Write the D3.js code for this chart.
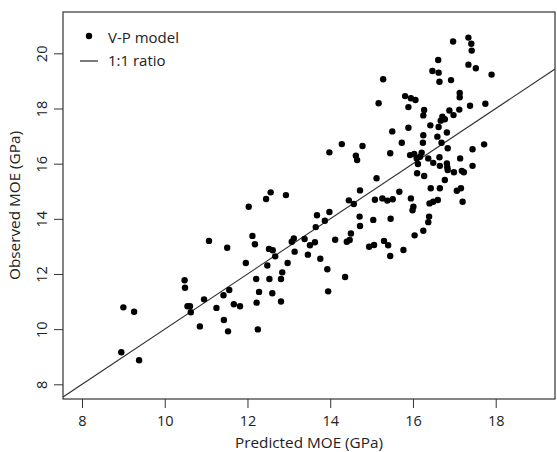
<!DOCTYPE html>
<html><head><meta charset="utf-8">
<script src="https://cdn.jsdelivr.net/npm/d3@7"></script>
<style>body{margin:0;background:#fff}svg{display:block}</style>
</head><body><svg id="c" width="557" height="452"></svg>
<script>
const predicted = [8.95,9.38,9.00,9.26,10.48,10.49,10.55,10.61,10.63,10.85,10.95,11.07,11.25,11.42,11.56,11.43,11.53,11.51,11.67,11.82,11.96,12.03,12.12,12.18,12.21,12.28,12.22,12.25,12.45,12.56,12.93,12.48,12.52,12.61,12.67,12.53,12.60,12.81,12.84,12.81,12.97,13.12,13.07,13.14,13.38,13.46,13.51,13.63,13.65,13.68,13.76,13.87,13.93,13.95,13.98,13.98,14.28,14.78,14.12,14.36,14.40,14.47,14.50,14.45,14.57,14.72,14.71,14.72,14.94,15.06,15.04,15.30,15.40,15.45,15.46,15.77,16.04,16.25,16.37,16.39,14.62,14.65,15.12,15.08,15.26,15.38,15.51,15.67,15.95,16.01,15.99,16.40,16.49,16.60,16.43,16.65,17.06,17.16,17.20,16.10,16.27,16.77,16.99,17.18,17.23,17.44,17.44,17.72,17.14,16.82,16.83,16.84,16.65,16.49,16.64,16.37,16.12,15.93,16.03,16.09,16.21,16.17,15.45,15.73,15.50,16.24,16.69,16.84,16.25,16.59,16.82,15.89,16.42,16.62,16.71,16.77,16.67,16.27,16.25,16.88,16.98,17.12,17.38,17.75,17.13,17.13,15.81,15.95,16.06,15.89,15.17,15.28,16.92,16.64,16.47,16.62,16.61,16.97,17.34,17.41,17.42,17.34,17.52,17.90];
const observed = [9.16,8.87,10.79,10.63,11.77,11.50,10.83,10.83,10.61,10.10,11.08,13.20,10.77,11.23,11.42,10.33,9.92,12.95,10.90,10.83,12.40,14.44,13.38,13.08,11.82,11.35,10.96,9.99,14.72,14.96,14.86,12.31,12.91,12.86,12.64,11.82,11.30,11.00,12.06,11.82,12.40,13.29,13.17,12.81,13.27,12.70,13.04,13.15,13.70,14.13,12.55,13.93,12.17,11.37,14.25,16.41,16.71,16.64,13.24,11.89,13.17,13.23,13.47,14.67,14.54,15.03,14.08,13.74,12.99,13.05,13.96,13.20,13.04,12.65,14.00,12.87,13.40,13.57,13.88,14.08,16.29,16.13,15.47,14.69,14.74,14.66,14.71,14.98,14.74,14.44,14.31,14.56,14.62,14.68,15.11,15.11,15.02,15.11,14.62,15.65,15.55,15.41,15.69,15.74,15.69,15.92,16.52,16.70,16.19,16.01,15.87,15.77,15.92,16.03,16.23,16.19,15.99,16.31,16.35,16.19,16.40,16.25,16.38,16.76,17.17,16.76,16.76,16.56,17.03,16.98,17.13,17.30,17.39,17.33,17.70,17.61,17.56,17.95,17.75,17.93,17.76,17.96,18.10,18.17,18.56,18.41,18.45,18.37,18.31,18.05,18.19,19.06,19.03,18.97,19.36,19.30,19.76,20.43,20.57,20.35,20.10,19.59,19.46,19.23];
const xTicks = [8,10,12,14,16,18];
const yTicks = [8,10,12,14,16,18,20];
const legendLabels = ["V-P model","1:1 ratio"];
const xTitle = "Predicted MOE (GPa)";
const yTitle = "Observed MOE (GPa)";

const W = 557, H = 452;
const L = 63, R = 555, T = 12, B = 399;
const FONT = "'Open Sans', sans-serif";
const svg = d3.select("#c");
const x = d3.scaleLinear().domain([7.541, 19.433]).range([L, R]);
const y = d3.scaleLinear().domain([7.467, 21.499]).range([B, T]);

// 1:1 line clipped to plot
svg.append("clipPath").attr("id","clip").append("rect")
  .attr("x", L).attr("y", T).attr("width", R-L).attr("height", B-T);
const lo = x.domain()[0], hi = x.domain()[1];
svg.append("line").attr("clip-path","url(#clip)")
  .attr("x1", x(lo)).attr("y1", y(lo)).attr("x2", x(hi)).attr("y2", y(hi))
  .attr("stroke", "#333").attr("stroke-width", 1.1);

// points
svg.append("g").selectAll("circle").data(predicted.map((p,i)=>[p, observed[i]]))
  .join("circle").attr("cx", d=>x(d[0])).attr("cy", d=>y(d[1])).attr("r", 3.2).attr("fill", "#000");

// box
svg.append("rect").attr("x", L).attr("y", T).attr("width", R-L).attr("height", B-T)
  .attr("fill","none").attr("stroke","#333").attr("stroke-width",1.2);

// axes
const xa = svg.append("g").attr("transform", `translate(0,${B})`)
  .call(d3.axisBottom(x).tickValues(xTicks).tickSize(9).tickPadding(8).tickFormat(d3.format("d")));
xa.select(".domain").remove();
xa.selectAll("line").attr("stroke","#333");
xa.selectAll("text").attr("font-family", FONT).attr("font-size", 14.5).attr("fill","#222");

const ya = svg.append("g").attr("transform", `translate(${L},0)`)
  .call(d3.axisLeft(y).tickValues(yTicks).tickSize(9).tickPadding(0).tickFormat(d3.format("d")));
ya.select(".domain").remove();
ya.selectAll("line").attr("stroke","#333");
ya.selectAll("text").attr("font-family", FONT).attr("font-size", 14.5).attr("fill","#222")
  .attr("x", null).attr("dy", null)
  .attr("text-anchor","middle")
  .attr("transform","translate(-21,0) rotate(-90)")
  .attr("dy","0.35em");

// titles
svg.append("text").attr("x", (L+R)/2).attr("y", 448).attr("text-anchor","middle")
  .attr("font-family", FONT).attr("font-size", 15.3).attr("fill","#222").text(xTitle);
svg.append("text").attr("transform", `translate(20,${(T+B)/2}) rotate(-90)`).attr("text-anchor","middle")
  .attr("font-family", FONT).attr("font-size", 15.3).attr("fill","#222").text(yTitle);

// legend
const lg = svg.append("g");
lg.append("circle").attr("cx", 89).attr("cy", 36).attr("r", 3.2).attr("fill","#000");
lg.append("line").attr("x1", 80).attr("x2", 98).attr("y1", 61).attr("y2", 61).attr("stroke","#222").attr("stroke-width",1.2);
lg.selectAll("text.lg").data(legendLabels).join("text").attr("class","lg")
  .attr("x", 108).attr("y", (d,i)=>42.5 + i*23)
  .attr("font-family", FONT).attr("font-size", 15).attr("fill","#222").text(d=>d);
</script></body></html>
